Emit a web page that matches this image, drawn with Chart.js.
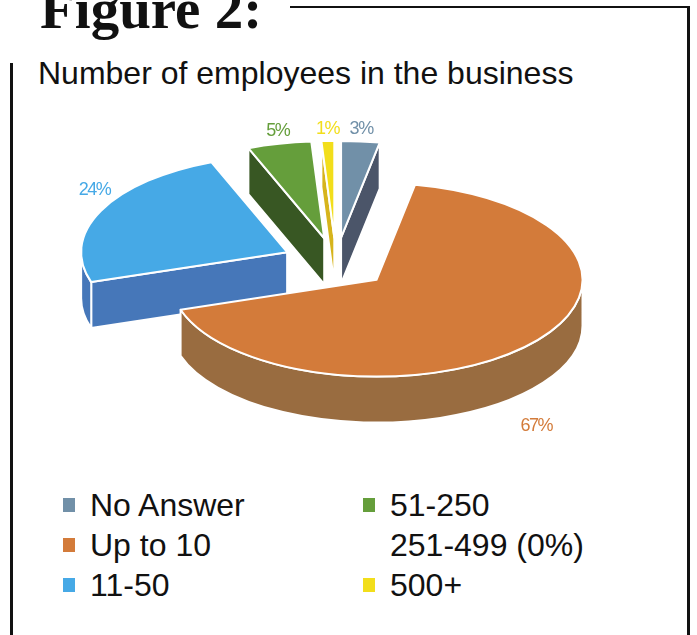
<!DOCTYPE html>
<html>
<head>
<meta charset="utf-8">
<script src="https://cdn.jsdelivr.net/npm/chart.js"></script>
<style>
  html, body { margin: 0; padding: 0; background: #fff; }
  body { width: 697px; height: 635px; position: relative; overflow: hidden; font-family: "Liberation Sans", Arial, sans-serif; }
  .fig-title { position: absolute; left: 40px; top: -21px; font-family: "Liberation Serif", serif; font-weight: bold; font-size: 57px; color: #111; line-height: 60px; white-space: nowrap; }
  .frame-top { position: absolute; left: 290px; top: 6px; width: 400px; height: 2px; background: #111; }
  .frame-right { position: absolute; left: 687px; top: 6px; width: 3px; height: 640px; background: #111; }
  .frame-left { position: absolute; left: 10px; top: 63px; width: 3px; height: 600px; background: #111; }
  .subtitle { position: absolute; left: 38px; top: 55px; font-size: 32px; color: #111; white-space: nowrap; }
  #wrap { position: absolute; left: 16px; top: 73px; width: 640px; height: 380px; }
  #legend { position: absolute; left: 63px; top: 485px; display: grid; grid-auto-flow: column; grid-template-rows: repeat(3, 40px); grid-template-columns: 300px 300px; }
  .item { display: flex; align-items: center; font-size: 32px; color: #111; white-space: nowrap; }
  .box { width: 12px; height: 14px; margin-right: 15px; }
</style>
</head>
<body>
<div class="fig-title">Figure 2:</div>
<div class="frame-top"></div>
<div class="frame-right"></div>
<div class="frame-left"></div>
<div class="subtitle">Number of employees in the business</div>
<div id="wrap"><canvas id="pie"></canvas></div>
<div id="legend"></div>
<script>
// categories and shares (percent)
const categories = ['No Answer', 'Up to 10', '11-50', '51-250', '251-499 (0%)', '500+'];
const shares = [3, 67, 24, 5, 0, 1];

// top face colours and the darker wall colours
const topColors = ['#7190a8', '#d37b3a', '#46a9e6', '#659e3b', '#ffffff', '#f2de1b'];
const wallColors = ['#4b5569', '#996c40', '#4677b9', '#385723', '#ffffff', '#d6b41c'];

const TILT = 0.47;   // vertical squash of the pie
const DEPTH = 46;    // thickness of the pie in px

// 3d pie drawn from the arc elements chart.js lays out
const pie3d = {
  id: 'pie3d',
  beforeDatasetsDraw(chart) {
    const ctx = chart.ctx;
    const meta = chart.getDatasetMeta(0);
    const arcs = meta.data.map((arc, i) => ({arc, i})).filter(a => shares[a.i] > 0);

    const geo = arcs.map(({arc, i}) => {
      const p = arc.getProps(['x', 'y', 'startAngle', 'endAngle', 'outerRadius']);
      const mid = (p.startAngle + p.endAngle) / 2;
      const off = arc.options.offset;
      const cx = p.x + off * Math.cos(mid);
      const cy = p.y + TILT * off * Math.sin(mid);
      return {i, cx, cy, r: p.outerRadius, s: p.startAngle, e: p.endAngle, mid};
    });

    const pt = (g, a, z) => [g.cx + g.r * Math.cos(a), g.cy + TILT * g.r * Math.sin(a) + z];

    ctx.save();
    ctx.lineJoin = 'round';
    ctx.strokeStyle = '#ffffff';
    ctx.lineWidth = 2;

    // back slices first
    geo.slice().sort((a, b) => Math.sin(a.mid) - Math.sin(b.mid)).forEach(g => {
      const wall = wallColors[g.i];

      // cut faces that turn toward the viewer
      const faces = [];
      if (Math.cos(g.s) < 0) faces.push(g.s);
      if (Math.cos(g.e) > 0) faces.push(g.e);
      faces.forEach(a => {
        const o = pt(g, a, 0), od = pt(g, a, DEPTH);
        ctx.beginPath();
        ctx.moveTo(g.cx, g.cy);
        ctx.lineTo(o[0], o[1]);
        ctx.lineTo(od[0], od[1]);
        ctx.lineTo(g.cx, g.cy + DEPTH);
        ctx.closePath();
        ctx.fillStyle = wall;
        ctx.fill();
        ctx.stroke();
      });

      // curved outer wall on the front half
      const a0 = Math.max(g.s, 0), a1 = Math.min(g.e, Math.PI);
      if (a1 > a0) {
        ctx.beginPath();
        ctx.ellipse(g.cx, g.cy, g.r, g.r * TILT, 0, a0, a1, false);
        ctx.ellipse(g.cx, g.cy + DEPTH, g.r, g.r * TILT, 0, a1, a0, true);
        ctx.closePath();
        ctx.fillStyle = wall;
        ctx.fill();
        ctx.stroke();
      }

      // top face
      ctx.beginPath();
      ctx.moveTo(g.cx, g.cy);
      ctx.ellipse(g.cx, g.cy, g.r, g.r * TILT, 0, g.s, g.e, false);
      ctx.closePath();
      ctx.fillStyle = topColors[g.i];
      ctx.fill();
      ctx.stroke();
    });

    // percentage labels outside each slice
    ctx.font = '18px "Liberation Sans", Arial, sans-serif';
    ctx.letterSpacing = '-1.5px';
    ctx.textAlign = 'center';
    ctx.textBaseline = 'middle';
    geo.forEach(g => {
      const edge = pt(g, g.mid, 0);
      const sn = Math.sin(g.mid), cs = Math.cos(g.mid);
      const lx = edge[0] + 7 * cs;
      const ly = sn > 0 ? edge[1] + DEPTH + 26 + 16 * sn : edge[1] - 12 - 11 * cs * cs;
      ctx.fillStyle = topColors[g.i];
      ctx.fillText(shares[g.i] + '%', lx, ly);
    });
    ctx.restore();
    return false;
  }
};

new Chart(document.getElementById('pie'), {
  type: 'pie',
  data: {
    labels: categories,
    datasets: [{
      data: shares,
      backgroundColor: topColors,
      offset: 54,
      borderWidth: 0
    }]
  },
  options: {
    responsive: true,
    maintainAspectRatio: false,
    animation: false,
    radius: 206,
    rotation: 0,
    layout: { padding: 0 },
    plugins: { legend: { display: false }, tooltip: { enabled: false } }
  },
  plugins: [pie3d]
});

// legend in two columns, filled top to bottom
const legend = document.getElementById('legend');
categories.forEach((name, i) => {
  const item = document.createElement('div');
  item.className = 'item';
  const box = document.createElement('span');
  box.className = 'box';
  box.style.background = shares[i] > 0 ? topColors[i] : 'transparent';
  item.appendChild(box);
  item.appendChild(document.createTextNode(name));
  legend.appendChild(item);
});
</script>
</body>
</html>
